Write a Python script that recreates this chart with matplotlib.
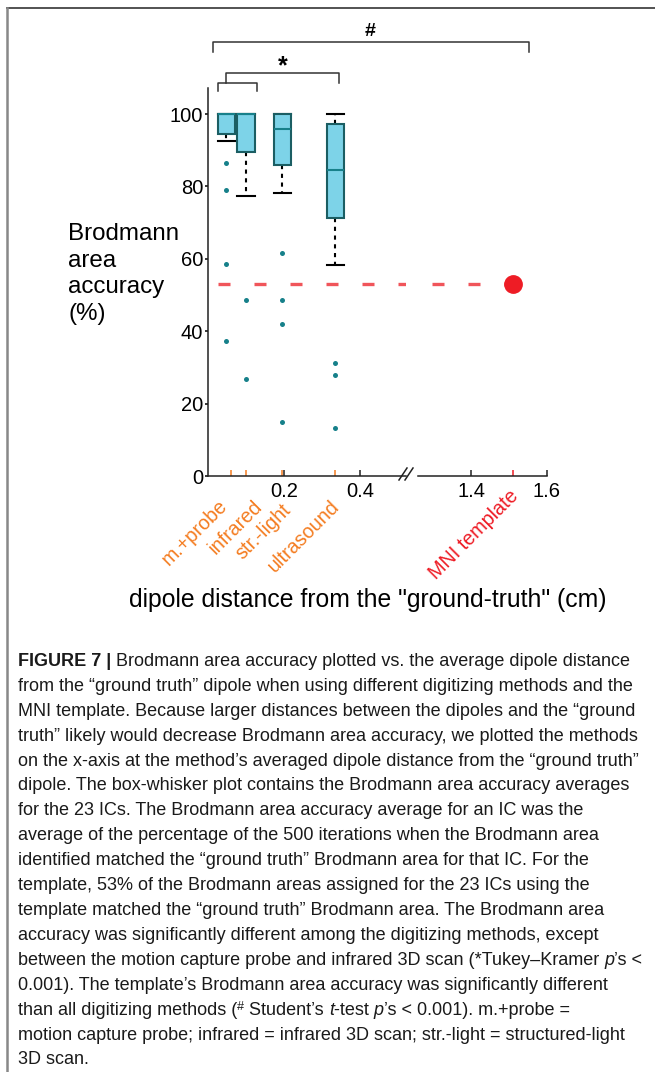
import matplotlib
matplotlib.use("Agg")
import matplotlib.pyplot as plt
from matplotlib.lines import Line2D

plt.rcParams['font.family'] = ['Liberation Sans', 'DejaVu Sans']

W, H = 655, 1072

# --- data ---
methods = ["m.+probe", "infrared", "str.-light", "ultrasound"]
method_dist = [0.06, 0.10, 0.195, 0.335]      # averaged dipole distance (cm)
box_pos = [0.048, 0.10, 0.195, 0.335]
q1 = [94.6, 89.6, 85.8, 71.2]
med = [100, 100, 95.9, 84.5]
q3 = [100, 100, 100, 97.2]
whislo = [92.5, 77.3, 78.2, 58.2]
whishi = [100, 100, 100, 100]
fliers = [[86.4, 79.0, 58.6, 37.2],
          [48.6, 26.7],
          [61.7, 48.6, 42.0, 15.0],
          [31.2, 27.8, 13.3]]
mni_label = "MNI template"
mni_dist = 1.51
mni_acc = 53
yticks = [0, 20, 40, 60, 80, 100]
xticks_left = [0.2, 0.4]
xticks_right = [1.4, 1.6]

BOX = '#7dd3e8'
BOX_EDGE = '#1b5e63'
TEAL = '#17808a'
ORANGE = '#f47c20'
RED = '#ee1c25'
RED_LINE = '#f0555a'


def fx(px):
    return px / W


def fy(py):
    return 1 - py / H


fig = plt.figure(figsize=(W / 100, H / 100), dpi=100)

# two axes for the broken x axis
ax = fig.add_axes([fx(208), fy(476), (405.6 - 208) / W, (476 - 88) / H])
ax2 = fig.add_axes([fx(418), fy(476), (547 - 418) / W, (476 - 88) / H], sharey=ax)
ax.set_xlim(0, 0.52)
ax2.set_xlim(1.26, 1.6)
ax.set_ylim(0, 107.2)

stats = []
for i in range(len(methods)):
    stats.append(dict(label=methods[i], med=med[i], q1=q1[i], q3=q3[i],
                      whislo=whislo[i], whishi=whishi[i], fliers=fliers[i]))

ax.bxp(stats, positions=box_pos, widths=0.045, capwidths=0.045,
       patch_artist=True, manage_ticks=False,
       boxprops=dict(facecolor=BOX, edgecolor=BOX_EDGE, linewidth=1.5, zorder=3),
       medianprops=dict(color=TEAL, linewidth=1.5, zorder=4),
       whiskerprops=dict(color='black', linewidth=1.5, linestyle=(0, (2, 2.2)), zorder=2),
       capprops=dict(color='black', linewidth=1.5, zorder=2),
       flierprops=dict(marker='o', markersize=3.6, markerfacecolor=TEAL,
                       markeredgecolor='none', zorder=3))

# template level
ax.axhline(mni_acc, color=RED_LINE, lw=2.4, linestyle=(7.8, (3.6, 7.2)), zorder=1)
ax2.plot([1.26, mni_dist], [mni_acc, mni_acc], color=RED_LINE, lw=2.4,
         linestyle=(6.6, (3.6, 7.2)), zorder=1)
ax2.plot([mni_dist], [mni_acc], 'o', color=RED, markersize=12.5, zorder=5)

# spines / ticks
for a in (ax, ax2):
    a.spines['top'].set_visible(False)
    a.spines['right'].set_visible(False)
    a.spines['bottom'].set_linewidth(1.1)
    a.spines['bottom'].set_color('#222222')
    a.tick_params(axis='x', which='major', direction='in', length=4.5, width=1.1,
                  color='#222222', labelsize=14.5, pad=4)
    a.tick_params(axis='x', which='minor', direction='in', length=4.5, width=1.1)
ax.spines['left'].set_linewidth(1.1)
ax.spines['left'].set_color('#222222')
ax2.spines['left'].set_visible(False)
ax.set_yticks(yticks)
ax.tick_params(axis='y', direction='out', length=2.5, width=1.1, labelsize=14.5, pad=1)
ax2.tick_params(axis='y', left=False, labelleft=False)
ax.set_xticks(xticks_left)
ax.set_xticklabels([f"{v:.1f}" for v in xticks_left])
ax2.set_xticks(xticks_right)
ax2.set_xticklabels([f"{v:.1f}" for v in xticks_right])
ax.set_xticks(method_dist, minor=True)
ax.tick_params(axis='x', which='minor', color=ORANGE)
ax2.set_xticks([mni_dist], minor=True)
ax2.tick_params(axis='x', which='minor', color=RED)

# method names under the axis
label_offsets = [(-13, -20), (7, -21), (-1, -24), (-6, -21)]
for name, d, off in zip(methods, method_dist, label_offsets):
    ax.annotate(name, xy=(d, 0), xycoords=('data', 'axes fraction'),
                xytext=off, textcoords='offset pixels', rotation=45,
                rotation_mode='anchor', ha='right', va='top',
                color=ORANGE, fontsize=14.2, annotation_clip=False)
ax2.annotate(mni_label, xy=(mni_dist, 0), xycoords=('data', 'axes fraction'),
             xytext=(-4, -10), textcoords='offset pixels', rotation=45,
             rotation_mode='anchor', ha='right', va='top',
             color=RED, fontsize=14.2, annotation_clip=False)

# axis break marks
for x0 in (399, 405):
    fig.add_artist(Line2D([fx(x0), fx(x0 + 8)], [fy(480), fy(468)],
                          color='#222222', lw=1.1))

# significance brackets
def bracket(pts):
    xs = [fx(p[0]) for p in pts]
    ys = [fy(p[1]) for p in pts]
    fig.add_artist(Line2D(xs, ys, color='#333333', lw=1.1))


bracket([(212.7, 52.3), (212.7, 42.3), (529, 42.3), (529, 52.3)])
bracket([(217.7, 91), (217.7, 82.7), (256.7, 82.7), (256.7, 91)])
bracket([(226, 82.7), (226, 73.3), (339.3, 73.3), (339.3, 83.3)])
fig.text(fx(370), fy(32), "#", ha='center', va='center', fontsize=14, fontweight='bold')
fig.text(fx(283), fy(66), "*", ha='center', va='center', fontsize=18, fontweight='bold')

# axis titles
fig.text(fx(68), fy(274), "Brodmann\narea\naccuracy\n(%)", ha='left', va='center',
         fontsize=17.4, linespacing=1.29)
fig.text(fx(367.5), fy(600), 'dipole distance from the "ground-truth" (cm)',
         ha='center', va='center', fontsize=17.8)

# frame
fig.add_artist(Line2D([fx(7), fx(655)], [fy(8.3), fy(8.3)], color='#444444', lw=1.3))
fig.add_artist(Line2D([fx(7.3), fx(7.3)], [fy(8), fy(1072)], color='#888888', lw=1.8))

# caption
caption = [
    [("FIGURE 7 |", 'b'), (" Brodmann area accuracy plotted vs. the average dipole distance", 'n')],
    [("from the \u201cground truth\u201d dipole when using different digitizing methods and the", 'n')],
    [("MNI template. Because larger distances between the dipoles and the \u201cground", 'n')],
    [("truth\u201d likely would decrease Brodmann area accuracy, we plotted the methods", 'n')],
    [("on the x-axis at the method\u2019s averaged dipole distance from the \u201cground truth\u201d", 'n')],
    [("dipole. The box-whisker plot contains the Brodmann area accuracy averages", 'n')],
    [("for the 23 ICs. The Brodmann area accuracy average for an IC was the", 'n')],
    [("average of the percentage of the 500 iterations when the Brodmann area", 'n')],
    [("identified matched the \u201cground truth\u201d Brodmann area for that IC. For the", 'n')],
    [("template, 53% of the Brodmann areas assigned for the 23 ICs using the", 'n')],
    [("template matched the \u201cground truth\u201d Brodmann area. The Brodmann area", 'n')],
    [("accuracy was significantly different among the digitizing methods, except", 'n')],
    [("between the motion capture probe and infrared 3D scan (*Tukey\u2013Kramer ", 'n'),
     ("p", 'i'), ("\u2019s <", 'n')],
    [("0.001). The template\u2019s Brodmann area accuracy was significantly different", 'n')],
    [("than all digitizing methods (", 'n'), ("#", 's'), (" Student\u2019s ", 'n'),
     ("t", 'i'), ("-test ", 'n'), ("p", 'i'), ("\u2019s < 0.001). m.+probe =", 'n')],
    [("motion capture probe; infrared = infrared 3D scan; str.-light = structured-light", 'n')],
    [("3D scan.", 'n')],
]

renderer = fig.canvas.get_renderer()
cap_size = 12.95


def seg_kw(style):
    kw = dict(fontsize=cap_size, color='#1a1a1a')
    if style == 'b':
        kw['fontweight'] = 'bold'
    elif style == 'i':
        kw['fontstyle'] = 'italic'
    elif style == 's':
        kw['fontsize'] = cap_size * 0.7
    return kw


def seg_width(txt, kw):
    t1 = fig.text(0, 0, txt + "|", **kw)
    t2 = fig.text(0, 0, "|", **kw)
    w = t1.get_window_extent(renderer).width - t2.get_window_extent(renderer).width
    t1.remove()
    t2.remove()
    return w


for i, line in enumerate(caption):
    base = 666 + 24.9 * i
    x = 18
    for txt, style in line:
        kw = seg_kw(style)
        yy = base - 5 if style == 's' else base
        fig.text(fx(x), fy(yy), txt, ha='left', va='baseline', **kw)
        x += seg_width(txt, kw)

fig.savefig("out.png", dpi=100)
